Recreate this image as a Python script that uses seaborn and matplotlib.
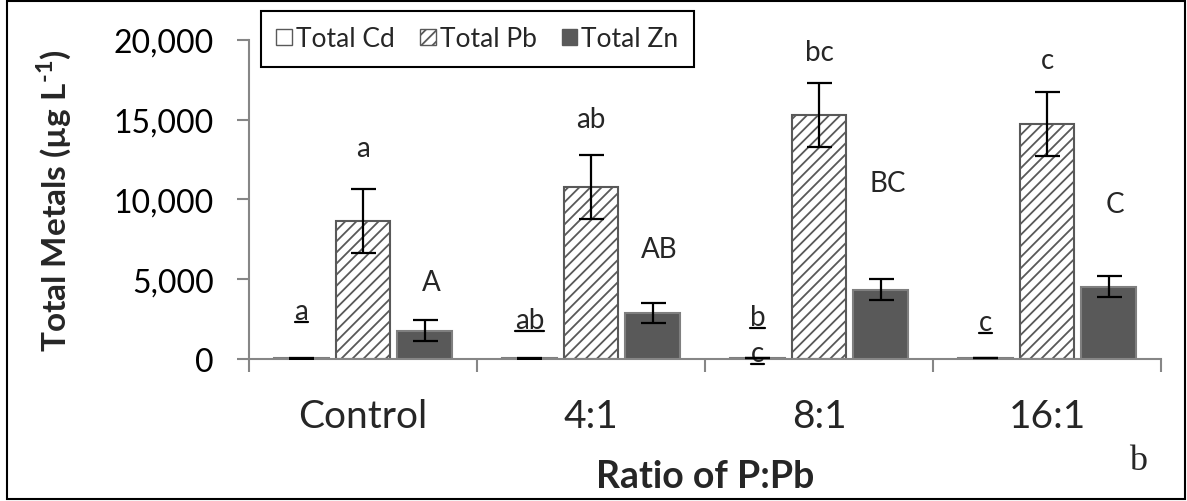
import matplotlib
matplotlib.use("Agg")
import matplotlib.pyplot as plt
from matplotlib.patches import Rectangle, Patch
import seaborn as sns
import pandas as pd
import numpy as np

# ---------------- data ----------------
categories = ["Control", "4:1", "8:1", "16:1"]
series = ["Total Cd", "Total Pb", "Total Zn"]
cd_values = [40, 40, 60, 45]
pb_values = [8650, 10800, 15300, 14750]
zn_values = [1780, 2900, 4340, 4540]
cd_err = [10, 10, 15, 10]
pb_err = [2000, 2000, 2000, 2020]
zn_err = [640, 620, 660, 650]
cd_letters = ["a", "ab", "b", "c"]
cd_extra_letter = {2: "c"}
pb_letters = ["a", "ab", "bc", "c"]
zn_letters = ["A", "AB", "BC", "C"]
yticks = [0, 5000, 10000, 15000, 20000]
ytick_labels = ["0", "5,000", "10,000", "15,000", "20,000"]

# label positions (data units)
cd_label_y = [2310, 1750, 1940, 1625]
cd_extra_y = {2: -310}
pb_label_y = [13250, 15060, 19250, 18750]
zn_label_y = [4810, 6875, 11060, 9690]

df = pd.DataFrame({
    "Ratio": categories * 3,
    "Metal": [s for s in series for _ in categories],
    "Value": cd_values + pb_values + zn_values,
})

sns.set_theme(style="white")
plt.rcParams["font.family"] = ["Lato", "DejaVu Sans"]
plt.rcParams["mathtext.fontset"] = "custom"
plt.rcParams["mathtext.rm"] = "Lato:bold"
plt.rcParams["mathtext.bf"] = "Lato:bold"
plt.rcParams["hatch.linewidth"] = 1.3

fig = plt.figure(figsize=(11.87, 5.02), dpi=100)
ax = fig.add_axes([249 / 1187, 1 - 360 / 502, (1161 - 249) / 1187, (360 - 41) / 502])

palette = {"Total Cd": "white", "Total Pb": "white", "Total Zn": "#595959"}
sns.barplot(data=df, x="Ratio", y="Value", hue="Metal", order=categories,
            hue_order=series, palette=palette, width=0.81, gap=0.11,
            errorbar=None, legend=False, ax=ax, saturation=1)

containers = list(ax.containers)
edge_colors = ["#7f7f7f", "#595959", "#7f7f7f"]
for ci, cont in enumerate(containers):
    for p in cont.patches:
        p.set_edgecolor(edge_colors[ci])
        p.set_linewidth(1.5)
        if ci == 1:
            p.set_hatch("///")

errs = [cd_err, pb_err, zn_err]
vals = [cd_values, pb_values, zn_values]
centers = []
for ci, cont in enumerate(containers):
    xs = [p.get_x() + p.get_width() / 2 for p in cont.patches]
    centers.append(xs)
for ci in range(len(containers)):
    ax.errorbar(centers[ci], vals[ci], yerr=errs[ci], fmt="none", ecolor="black",
                elinewidth=1.6, capsize=9, capthick=1.6, zorder=5)

ax.set_xlim(-0.5, 3.5)
ax.set_ylim(0, 20000)
ax.set_yticks(yticks)
ax.set_yticklabels(ytick_labels)
ax.tick_params(axis="y", labelsize=23, colors="#868686", labelcolor="black",
               direction="out", length=8.5, width=1.5, left=True, pad=17)
ax.set_xticks(range(len(categories)))
ax.set_xticklabels(categories)
ax.tick_params(axis="x", which="major", length=0, labelsize=28, pad=28)
ax.set_xticks([-0.5, 0.5, 1.5, 2.5, 3.5], minor=True)
ax.tick_params(axis="x", which="minor", bottom=True, length=9.5, width=1.5,
               color="#868686", direction="out")
for s in ["top", "right"]:
    ax.spines[s].set_visible(False)
for s in ["left", "bottom"]:
    ax.spines[s].set_color("#868686")
    ax.spines[s].set_linewidth(1.5)

ax.set_ylabel(r"Total Metals (µg L$^{\text{-1}}$)", fontsize=24,
              fontweight="bold")
ax.yaxis.label.set_va("baseline")
ax.yaxis.set_label_coords(-0.2007, 0.5)
ax.set_xlabel("Ratio of P:Pb", fontsize=27, fontweight="bold")
ax.xaxis.label.set_va("baseline")
ax.xaxis.set_label_coords(0.5, (360 - 488) / 319)

# significance letters
lsize = 20
cd_texts = []
for i in range(len(categories)):
    t = ax.annotate(cd_letters[i], xy=(centers[0][i], cd_label_y[i]), xytext=(0, 2),
                    textcoords="offset points", ha="center", va="baseline",
                    fontsize=lsize, annotation_clip=False)
    cd_texts.append((t, cd_label_y[i]))
for i, lab in cd_extra_letter.items():
    t = ax.annotate(lab, xy=(centers[0][i], cd_extra_y[i]), xytext=(0, 2),
                    textcoords="offset points", ha="center", va="baseline",
                    fontsize=lsize, annotation_clip=False)
    cd_texts.append((t, cd_extra_y[i]))
for i in range(len(categories)):
    ax.text(centers[1][i], pb_label_y[i], pb_letters[i], ha="center", va="center",
            fontsize=lsize)
    ax.text(centers[2][i] + 0.03, zn_label_y[i], zn_letters[i], ha="center",
            va="center", fontsize=lsize)

fig.canvas.draw()
inv = ax.transData.inverted()
for t, yv in cd_texts:
    bb = t.get_window_extent()
    x0 = inv.transform((bb.x0, 0))[0]
    x1 = inv.transform((bb.x1, 0))[0]
    ax.plot([x0, x1], [yv, yv], color="black", lw=1.6, clip_on=False, zorder=6)

# legend
handles = [Patch(facecolor="white", edgecolor="#595959", linewidth=1.0),
           Patch(facecolor="white", edgecolor="#595959", hatch="///", linewidth=1.0),
           Patch(facecolor="#595959", edgecolor="#595959", linewidth=1.0)]
leg = fig.legend(handles, series, loc="upper left",
                 bbox_to_anchor=(261 / 1187, 1 - 12 / 502), ncol=3,
                 fontsize=19, frameon=True, fancybox=False, framealpha=1,
                 edgecolor="black", handlelength=0.6, handleheight=0.6,
                 handletextpad=0.15, columnspacing=0.95, borderpad=0.58,
                 borderaxespad=0)
leg.get_frame().set_linewidth(1.5)

fig.text(1138 / 1187, 1 - 462 / 502, "b", fontsize=26, family="Liberation Serif",
         ha="center", va="center")

fig.patches.append(Rectangle((7 / 1187, 2 / 502), 1178 / 1187, 498 / 502,
                             transform=fig.transFigure, fill=False,
                             edgecolor="black", linewidth=1.5))

fig.savefig("out.png", dpi=100, facecolor="white")
